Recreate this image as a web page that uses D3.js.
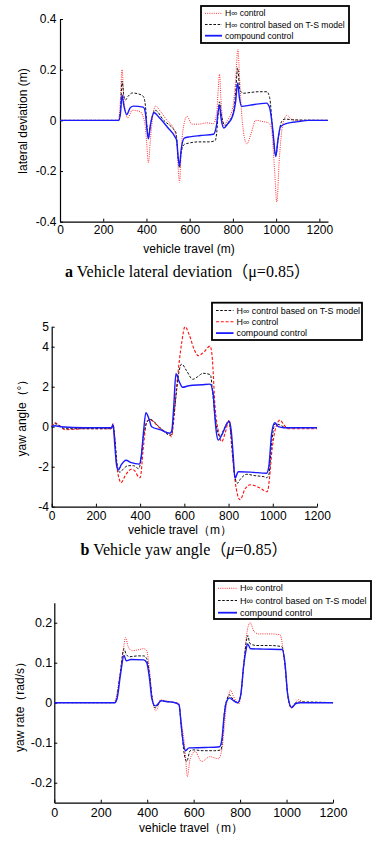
<!DOCTYPE html>
<html>
<head>
<meta charset="utf-8">
<script src="https://cdn.jsdelivr.net/npm/d3@7"></script>
<style>
body { margin: 0; background: #fff; }
svg text { font-family: "Liberation Sans", Arial, sans-serif; fill: #000; }
.cap { font-family: "Liberation Serif", "Times New Roman", "Noto Sans CJK SC", serif; }
</style>
</head>
<body>
<svg id="canvas" width="379" height="843"></svg>
<script>
// ---- a: lateral deviation (m) ----
let latRedX = [0, 270, 278, 287, 296, 313, 335, 370, 393, 401, 409, 418, 430, 442, 465, 495, 525, 540, 547, 553, 562, 575, 588, 610, 640, 680, 710, 725, 732, 738, 745, 756, 775, 800, 812, 823, 832, 843, 864, 885, 905, 940, 965, 978, 993, 1003, 1015, 1030, 1050, 1070, 1100, 1240]
let latRedY = [0, 0, 0.06, 0.2, 0.08, 0.01, 0.04, 0.035, -0.013, -0.09, -0.167, -0.08, 0.02, 0.056, 0.035, 0.0, -0.033, -0.08, -0.19, -0.245, -0.1, -0.01, 0.016, -0.015, -0.015, -0.01, -0.013, 0.03, 0.12, 0.182, 0.08, -0.02, 0.0, 0.053, 0.15, 0.28, 0.15, 0.0, -0.093, -0.05, 0.0, -0.005, -0.01, -0.03, -0.2, -0.322, -0.15, -0.02, 0.02, 0.005, 0, 0]
let latBlackX = [0, 272, 280, 287, 295, 302, 315, 335, 360, 385, 395, 403, 409, 418, 440, 480, 520, 537, 547, 553, 560, 575, 595, 640, 690, 718, 726, 732, 738, 745, 764, 785, 802, 812, 822, 832, 849, 880, 920, 957, 970, 985, 998, 1010, 1025, 1040, 1080, 1240]
let latBlackY = [0, 0, 0.04, 0.155, 0.1, 0.08, 0.095, 0.108, 0.105, 0.095, 0.06, -0.03, -0.068, -0.02, 0.04, 0.0, -0.03, -0.05, -0.15, -0.187, -0.13, -0.095, -0.09, -0.085, -0.085, -0.08, -0.04, 0.03, 0.073, 0.03, -0.02, 0.0, 0.033, 0.1, 0.207, 0.12, 0.107, 0.11, 0.113, 0.113, 0.09, -0.05, -0.14, -0.07, -0.005, 0.005, 0.002, 0]
let latBlueX = [0, 272, 280, 287, 295, 309, 325, 340, 385, 395, 403, 409, 418, 435, 460, 500, 532, 540, 547, 553, 560, 575, 600, 650, 710, 724, 731, 738, 745, 758, 775, 800, 812, 822, 830, 841, 880, 920, 955, 970, 985, 998, 1008, 1020, 1050, 1100, 1150, 1240]
let latBlueY = [0, 0, 0.03, 0.1, 0.06, 0.023, 0.05, 0.056, 0.052, 0.03, -0.04, -0.073, -0.02, 0.03, 0.01, -0.03, -0.065, -0.08, -0.15, -0.18, -0.12, -0.07, -0.065, -0.06, -0.055, -0.02, 0.03, 0.06, 0.01, -0.03, -0.015, 0.02, 0.07, 0.148, 0.09, 0.055, 0.06, 0.065, 0.068, 0.05, -0.04, -0.143, -0.08, -0.025, -0.012, -0.005, 0, 0]
let latYTicks = [-0.4, -0.2, 0, 0.2, 0.4]
let latXTicks = [0, 200, 400, 600, 800, 1000, 1200]

// ---- b: yaw angle (deg) ----
let angRedX = [0, 15, 35, 60, 150, 270, 277, 285, 295, 305, 313, 335, 360, 375, 392, 400, 415, 429, 444, 490, 535, 542, 548, 565, 588, 603, 622, 645, 663, 690, 716, 725, 740, 753, 769, 785, 803, 814, 829, 852, 875, 900, 940, 975, 985, 995, 1010, 1033, 1050, 1069, 1120, 1200]
let angRedY = [0, 0.2, 0.05, -0.15, -0.1, -0.1, 0.15, -0.5, -2.0, -2.6, -2.8, -2.4, -2.13, -2.2, -2.5, -2.55, -1.0, 0.25, 0.35, -0.08, -0.42, -0.5, -0.1, 2.0, 4.2, 5.0, 4.6, 3.85, 3.55, 3.75, 4.03, 3.6, 0.83, -0.17, -0.75, -0.3, 0.33, -1.0, -2.67, -3.65, -3.1, -2.9, -3.05, -3.25, -2.6, -1.33, -0.2, 0.33, 0.1, -0.1, -0.1, -0.1]
let angBlackX = [0, 15, 35, 60, 150, 270, 277, 285, 295, 308, 325, 345, 370, 385, 392, 400, 415, 430, 444, 490, 535, 542, 552, 565, 575, 588, 610, 638, 660, 685, 718, 727, 740, 752, 761, 780, 800, 812, 825, 839, 855, 882, 920, 960, 972, 982, 995, 1010, 1030, 1060, 1200]
let angBlackY = [0, 0.15, 0.05, -0.1, -0.1, -0.1, 0.1, -0.5, -1.8, -2.28, -2.1, -1.95, -1.95, -2.05, -2.1, -1.9, -0.5, 0.2, 0.37, -0.05, -0.42, -0.4, 0.5, 1.8, 2.7, 3.13, 2.8, 2.37, 2.5, 2.67, 2.6, 1.8, 0.4, -0.3, -0.5, -0.1, 0.28, -0.5, -2.2, -2.83, -2.6, -2.38, -2.45, -2.5, -2.55, -2.4, -0.8, 0.15, 0.1, -0.05, -0.05]
let angBlueX = [0, 15, 40, 150, 270, 277, 286, 293, 301, 315, 336, 360, 396, 405, 415, 426, 440, 452, 490, 535, 543, 552, 562, 575, 592, 620, 680, 716, 730, 738, 745, 753, 770, 790, 803, 812, 822, 829, 844, 900, 972, 982, 995, 1009, 1025, 1050, 1200]
let angBlueY = [0, 0.05, 0, -0.05, -0.05, 0.1, -1.0, -1.9, -2.17, -1.9, -1.68, -1.8, -1.87, -1.5, -0.3, 0.7, 0.4, 0.0, -0.15, -0.33, -0.2, 1.0, 2.65, 2.3, 1.97, 2.05, 2.1, 2.13, 1.68, 0.5, -0.3, -0.67, -0.4, 0.1, 0.28, -0.2, -1.6, -2.58, -2.25, -2.27, -2.33, -2.0, -0.33, 0.2, 0.0, -0.05, -0.05]
let angYTicks = [-4, -2, 0, 2, 4, 5]
let angXTicks = [0, 200, 400, 600, 800, 1000, 1200]

// ---- c: yaw rate (rad/s) ----
let rateRedX = [0, 255, 265, 280, 295, 307, 318, 335, 360, 385, 398, 410, 420, 437, 447, 455, 480, 520, 535, 545, 563, 573, 584, 606, 634, 670, 706, 721, 732, 742, 750, 759, 770, 785, 795, 814, 828, 843, 860, 880, 930, 971, 994, 1008, 1022, 1035, 1051, 1070, 1100, 1200]
let rateRedY = [0, 0, 0.01, 0.06, 0.12, 0.163, 0.14, 0.13, 0.132, 0.135, 0.13, 0.08, 0.02, -0.02, -0.01, 0.007, 0.005, 0.0, 0.0, -0.04, -0.118, -0.185, -0.143, -0.122, -0.147, -0.135, -0.14, -0.12, -0.06, 0.0, 0.018, 0.032, 0.018, 0.002, -0.003, 0.09, 0.17, 0.2, 0.178, 0.172, 0.172, 0.17, 0.09, 0.007, -0.014, -0.005, 0.008, 0.002, 0, 0]
let rateBlackX = [0, 258, 268, 283, 300, 310, 325, 360, 385, 398, 410, 422, 434, 447, 460, 480, 520, 537, 547, 560, 570, 585, 600, 640, 690, 718, 725, 733, 742, 753, 765, 790, 803, 815, 826, 833, 842, 870, 930, 980, 992, 1005, 1020, 1040, 1060, 1200]
let rateBlackY = [0, 0, 0.01, 0.07, 0.135, 0.12, 0.115, 0.117, 0.117, 0.11, 0.07, 0.01, -0.013, -0.005, 0.005, 0.003, 0.0, -0.005, -0.06, -0.13, -0.147, -0.12, -0.118, -0.12, -0.12, -0.118, -0.08, -0.02, 0.005, 0.02, 0.012, 0.0, 0.02, 0.09, 0.15, 0.168, 0.148, 0.143, 0.143, 0.14, 0.1, 0.02, -0.012, 0.0, 0.002, 0]
let rateBlueX = [0, 260, 270, 285, 300, 310, 330, 385, 398, 410, 420, 434, 447, 460, 480, 520, 537, 547, 555, 565, 580, 650, 712, 722, 730, 740, 755, 765, 790, 803, 815, 825, 832, 845, 900, 982, 993, 1005, 1022, 1040, 1060, 1200]
let rateBlueY = [0, 0, 0.01, 0.07, 0.118, 0.105, 0.108, 0.107, 0.1, 0.06, 0.01, -0.008, -0.003, 0.005, 0.003, 0.0, -0.005, -0.06, -0.1, -0.12, -0.113, -0.112, -0.11, -0.09, -0.04, 0.0, 0.012, 0.008, 0.0, 0.02, 0.09, 0.13, 0.147, 0.135, 0.134, 0.133, 0.1, 0.02, -0.012, -0.002, 0.0, 0]
let rateYTicks = [-0.2, -0.1, 0, 0.1, 0.2]
let rateXTicks = [0, 200, 400, 600, 800, 1000, 1200]

let hinfName = 'H\u221E control'
let tsName = 'H\u221E control based on T-S model'
let compName = 'compound control'

// line styles
let redDot = { color: '#ff3030', width: 1, dash: '1,1.2' }
let redDash = { color: '#ff1010', width: 1.1, dash: '3,1.8' }
let blackDash = { color: '#111', width: 1, dash: '2.6,1.6' }
let blueSolid = { color: '#1a1aff', width: 1.4, dash: null }

let canvas = d3.select('#canvas')

let drawPanel = (p) => {
    let xScale = d3.scaleLinear().domain(p.xDomain).range(p.xRange)
    let yScale = d3.scaleLinear().domain(p.yDomain).range(p.yRange)
    let g = canvas.append('g')

    let xAxis = d3.axisBottom(xScale)
        .tickValues(p.xTicks)
        .tickFormat(d3.format('d'))
        .tickSizeInner(-3)
        .tickSizeOuter(0)
        .tickPadding(p.xPad)
    let yAxis = d3.axisLeft(yScale)
        .tickValues(p.yTicks)
        .tickFormat((d) => String(d))
        .tickSizeInner(-3)
        .tickSizeOuter(0)
        .tickPadding(p.yPad)

    let gx = g.append('g')
        .attr('transform', 'translate(0,' + p.yRange[0] + ')')
        .call(xAxis)
    let gy = g.append('g')
        .attr('transform', 'translate(' + p.xRange[0] + ',0)')
        .call(yAxis)
    ;[gx, gy].forEach((ax) => {
        ax.attr('font-size', null).attr('font-family', null)
        ax.selectAll('text').style('font-size', p.tickFont + 'px')
        ax.select('.domain').attr('stroke', '#000').attr('stroke-width', 1.2)
        ax.selectAll('.tick line').attr('stroke', '#000')
    })

    let line = d3.line()
        .x((d) => xScale(d[0]))
        .y((d) => yScale(d[1]))
        .curve(d3.curveMonotoneX)

    p.series.forEach((s) => {
        let pts = d3.zip(s.x, s.y)
        g.append('path')
            .datum(pts)
            .attr('d', line)
            .attr('fill', 'none')
            .attr('stroke', s.style.color)
            .attr('stroke-width', s.style.width)
            .attr('stroke-dasharray', s.style.dash)
            .attr('stroke-linejoin', 'round')
    })

    // legend, in the order the reference shows it
    let lg = p.legend
    let box = g.append('g')
    box.append('rect')
        .attr('x', lg.x).attr('y', lg.y)
        .attr('width', lg.w).attr('height', lg.h)
        .attr('fill', '#fff')
        .attr('stroke', '#000')
        .attr('stroke-width', 1.8)
    lg.items.forEach((it, i) => {
        let yy = lg.y + lg.row0 + i * lg.rowGap
        box.append('line')
            .attr('x1', lg.x + 4).attr('x2', lg.x + 4 + lg.sample)
            .attr('y1', yy).attr('y2', yy)
            .attr('stroke', it.style.color)
            .attr('stroke-width', it.style === blueSolid ? 1.8 : it.style.width)
            .attr('stroke-dasharray', it.style.dash)
        box.append('text')
            .attr('x', lg.x + 7 + lg.sample)
            .attr('y', yy + 3)
            .style('font-size', lg.font + 'px')
            .text(it.name)
    })

    g.append('text')
        .attr('x', p.xLabel.x).attr('y', p.xLabel.y)
        .attr('text-anchor', 'middle')
        .style('font-size', '12px')
        .text(p.xLabel.text)
    g.append('text')
        .attr('transform', 'translate(' + p.yLabel.x + ',' + p.yLabel.y + ') rotate(-90)')
        .attr('text-anchor', 'middle')
        .style('font-size', '12px')
        .text(p.yLabel.text)
}

drawPanel({
    xDomain: [0, 1240], xRange: [60, 328],
    yDomain: [-0.4, 0.4], yRange: [221.7, 19],
    xTicks: latXTicks, yTicks: latYTicks,
    xPad: 4, yPad: 3.5, tickFont: 12,
    series: [
        { x: latRedX, y: latRedY, style: redDot },
        { x: latBlackX, y: latBlackY, style: blackDash },
        { x: latBlueX, y: latBlueY, style: blueSolid }
    ],
    legend: { x: 201, y: 6, w: 148, h: 37, row0: 7.3, rowGap: 11.2, sample: 17, font: 8.6,
        items: [
            { name: hinfName, style: redDot },
            { name: tsName, style: blackDash },
            { name: compName, style: blueSolid }
        ] },
    xLabel: { x: 189, y: 252.5, text: 'vehicle travel  (m)' },
    yLabel: { x: 27, y: 121, text: 'lateral deviation  (m)' }
})

drawPanel({
    xDomain: [0, 1200], xRange: [51.7, 317],
    yDomain: [-4, 5], yRange: [506.7, 326.7],
    xTicks: angXTicks, yTicks: angYTicks,
    xPad: 4.5, yPad: 2.7, tickFont: 12,
    series: [
        { x: angRedX, y: angRedY, style: redDash },
        { x: angBlackX, y: angBlackY, style: blackDash },
        { x: angBlueX, y: angBlueY, style: blueSolid }
    ],
    legend: { x: 212, y: 302.7, w: 150, h: 37.3, row0: 7.8, rowGap: 11.3, sample: 17.5, font: 8.9,
        items: [
            { name: tsName, style: blackDash },
            { name: hinfName, style: redDash },
            { name: compName, style: blueSolid }
        ] },
    xLabel: { x: 180, y: 534, text: 'vehicle travel\uFF08m\uFF09' },
    yLabel: { x: 26, y: 415, text: 'yaw angle\uFF08\u00B0\uFF09' }
})

drawPanel({
    xDomain: [0, 1200], xRange: [54.3, 333],
    yDomain: [-0.25, 0.25], yRange: [802.7, 602.7],
    xTicks: rateXTicks, yTicks: rateYTicks,
    xPad: 5.5, yPad: 2, tickFont: 12.5,
    series: [
        { x: rateRedX, y: rateRedY, style: redDot },
        { x: rateBlackX, y: rateBlackY, style: blackDash },
        { x: rateBlueX, y: rateBlueY, style: blueSolid }
    ],
    legend: { x: 214, y: 581, w: 157, h: 38, row0: 7.3, rowGap: 12.2, sample: 19, font: 9.1,
        items: [
            { name: hinfName, style: redDot },
            { name: tsName, style: blackDash },
            { name: compName, style: blueSolid }
        ] },
    xLabel: { x: 191, y: 831.5, text: 'vehicle travel\uFF08m\uFF09' },
    yLabel: { x: 24, y: 704, text: 'yaw rate\uFF08rad/s\uFF09' }
})

// captions
let capA = canvas.append('text').attr('class', 'cap')
    .attr('x', 187.5).attr('y', 276.7).attr('text-anchor', 'middle')
    .style('font-size', '16px')
capA.append('tspan').style('font-weight', 'bold').text('a')
capA.append('tspan').text(' Vehicle lateral deviation\uFF08\u03BC=0.85\uFF09')

let capB = canvas.append('text').attr('class', 'cap')
    .attr('x', 184).attr('y', 555).attr('text-anchor', 'middle')
    .style('font-size', '16px')
capB.append('tspan').style('font-weight', 'bold').text('b')
capB.append('tspan').text(' Vehicle yaw angle\uFF08')
capB.append('tspan').style('font-style', 'italic').text('\u03BC')
capB.append('tspan').text('=0.85\uFF09')
</script>
</body>
</html>
